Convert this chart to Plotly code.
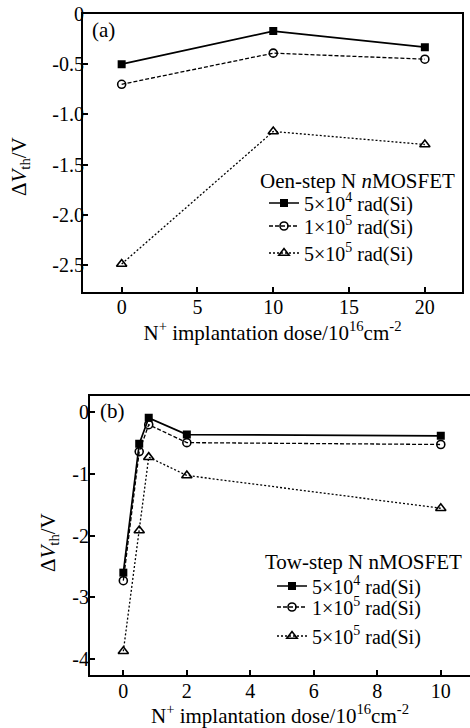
import plotly.graph_objects as go

# Panel (a): one-step N
xa = [0, 10, 20]
a_5e4 = [-0.50, -0.17, -0.33]
a_1e5 = [-0.70, -0.39, -0.45]
a_5e5 = [-2.49, -1.17, -1.30]

# Panel (b): two-step N
xb = [0, 0.5, 0.8, 2, 10]
b_5e4 = [-2.60, -0.52, -0.10, -0.37, -0.39]
b_1e5 = [-2.73, -0.645, -0.21, -0.50, -0.53]
b_5e5 = [-3.87, -1.92, -0.735, -1.03, -1.56]

series_names = ["5×10<sup>4</sup> rad(Si)", "1×10<sup>5</sup> rad(Si)", "5×10<sup>5</sup> rad(Si)"]

xa_ticks = [0, 5, 10, 15, 20]
ya_ticks = [0, -0.5, -1.0, -1.5, -2.0, -2.5]
ya_ticktext = ["0", "-0.5", "-1.0", "-1.5", "-2.0", "-2.5"]
xb_ticks = [0, 2, 4, 6, 8, 10]
yb_ticks = [0, -1, -2, -3, -4]
yb_ticktext = ["0", "-1", "-2", "-3", "-4"]

FONT = "Liberation Serif"
W, H = 470, 728

styles = [
    dict(line=dict(color="black", width=1.7, dash="solid"),
         marker=dict(symbol="square", size=8, color="black")),
    dict(line=dict(color="black", width=1.3, dash="4px,2px"),
         marker=dict(symbol="circle-open", size=8, color="black", line=dict(width=1.6))),
    dict(line=dict(color="black", width=1.3, dash="2px,2px"),
         marker=dict(symbol="triangle-up-open", size=9, color="black", line=dict(width=1.6))),
]

fig = go.Figure()
legend_ids_a = ["legend", "legend2", "legend3"]
legend_ids_b = ["legend4", "legend5", "legend6"]
for i, ys in enumerate([a_5e4, a_1e5, a_5e5]):
    fig.add_trace(go.Scatter(x=xa, y=ys, mode="lines+markers", name=series_names[i],
                             showlegend=True,
                             xaxis="x", yaxis="y", legend=legend_ids_a[i], **styles[i]))
for i, ys in enumerate([b_5e4, b_1e5, b_5e5]):
    fig.add_trace(go.Scatter(x=xb, y=ys, mode="lines+markers", name=series_names[i],
                             showlegend=True,
                             xaxis="x2", yaxis="y2", legend=legend_ids_b[i], **styles[i]))

axis_common = dict(showline=True, linecolor="black", linewidth=2, mirror=True,
                   ticks="inside", ticklen=5, tickwidth=1.5, tickcolor="black",
                   showgrid=False, zeroline=False, automargin=False,
                   tickfont=dict(family=FONT, size=20, color="black"))

xtitle = "N<sup>+</sup> implantation dose/10<sup>16</sup>cm<sup>-2</sup>"


def leg(x_px, y_px):
    return dict(x=x_px / W, y=1 - y_px / H, xanchor="left", yanchor="middle",
                bgcolor="rgba(0,0,0,0)", borderwidth=0, visible=True,
                font=dict(family=FONT, size=20, color="black"), itemwidth=30)


def note(text, x_px, y_px, xanchor="center", angle=0):
    return dict(text=text, x=x_px / W, y=1 - y_px / H, xanchor=xanchor, yanchor="middle",
                textangle=angle, xref="paper", yref="paper", showarrow=False,
                font=dict(family=FONT, size=21, color="black"))


fig.update_layout(
    template="none",
    showlegend=True,
    width=W, height=H,
    margin=dict(l=0, r=0, t=0, b=0, autoexpand=False),
    paper_bgcolor="white", plot_bgcolor="white",
    font=dict(family=FONT, size=20, color="black"),
    xaxis=dict(domain=[83 / W, 462 / W], range=[-2.55, 22.45],
               tickvals=xa_ticks, anchor="y", ticklabelstandoff=-4,
               title=dict(text=xtitle, standoff=0, font=dict(family=FONT, size=21)),
               **axis_common),
    yaxis=dict(domain=[1 - 291.7 / H, 1 - 14 / H], range=[-2.766, 0.0],
               tickvals=ya_ticks, ticktext=ya_ticktext, anchor="x", ticklabelstandoff=-7,
               **axis_common),
    xaxis2=dict(domain=[90 / W, 1.0], range=[-1.05, 10.92],
                tickvals=xb_ticks, anchor="y2", ticklabelstandoff=-3,
                title=dict(text=xtitle, standoff=0, font=dict(family=FONT, size=21)),
                **axis_common),
    yaxis2=dict(domain=[1 - 675 / H, 1 - 395.7 / H], range=[-4.253, 0.258],
                tickvals=yb_ticks, ticktext=yb_ticktext, anchor="x2", ticklabelstandoff=-5,
                **axis_common),
    legend=leg(264, 203),
    legend2=leg(264, 226),
    legend3=leg(264, 253),
    legend4=leg(272, 586),
    legend5=leg(272, 607),
    legend6=leg(272, 636),
    annotations=[
        note("Oen-step N <i>n</i>MOSFET", 258, 181, xanchor="left"),
        note("Tow-step N nMOSFET", 263, 562, xanchor="left"),
        note("Δ<i>V</i><sub>th</sub>/V", 20, 167, angle=-90),
        note("Δ<i>V</i><sub>th</sub>/V", 49, 543, angle=-90),
        note("(a)", 103, 30),
        note("(b)", 112, 411),
    ],
)

fig.write_html("out.html", config={"displayModeBar": False},
               post_script="document.body.style.margin='0px';document.body.style.overflow='hidden';")
